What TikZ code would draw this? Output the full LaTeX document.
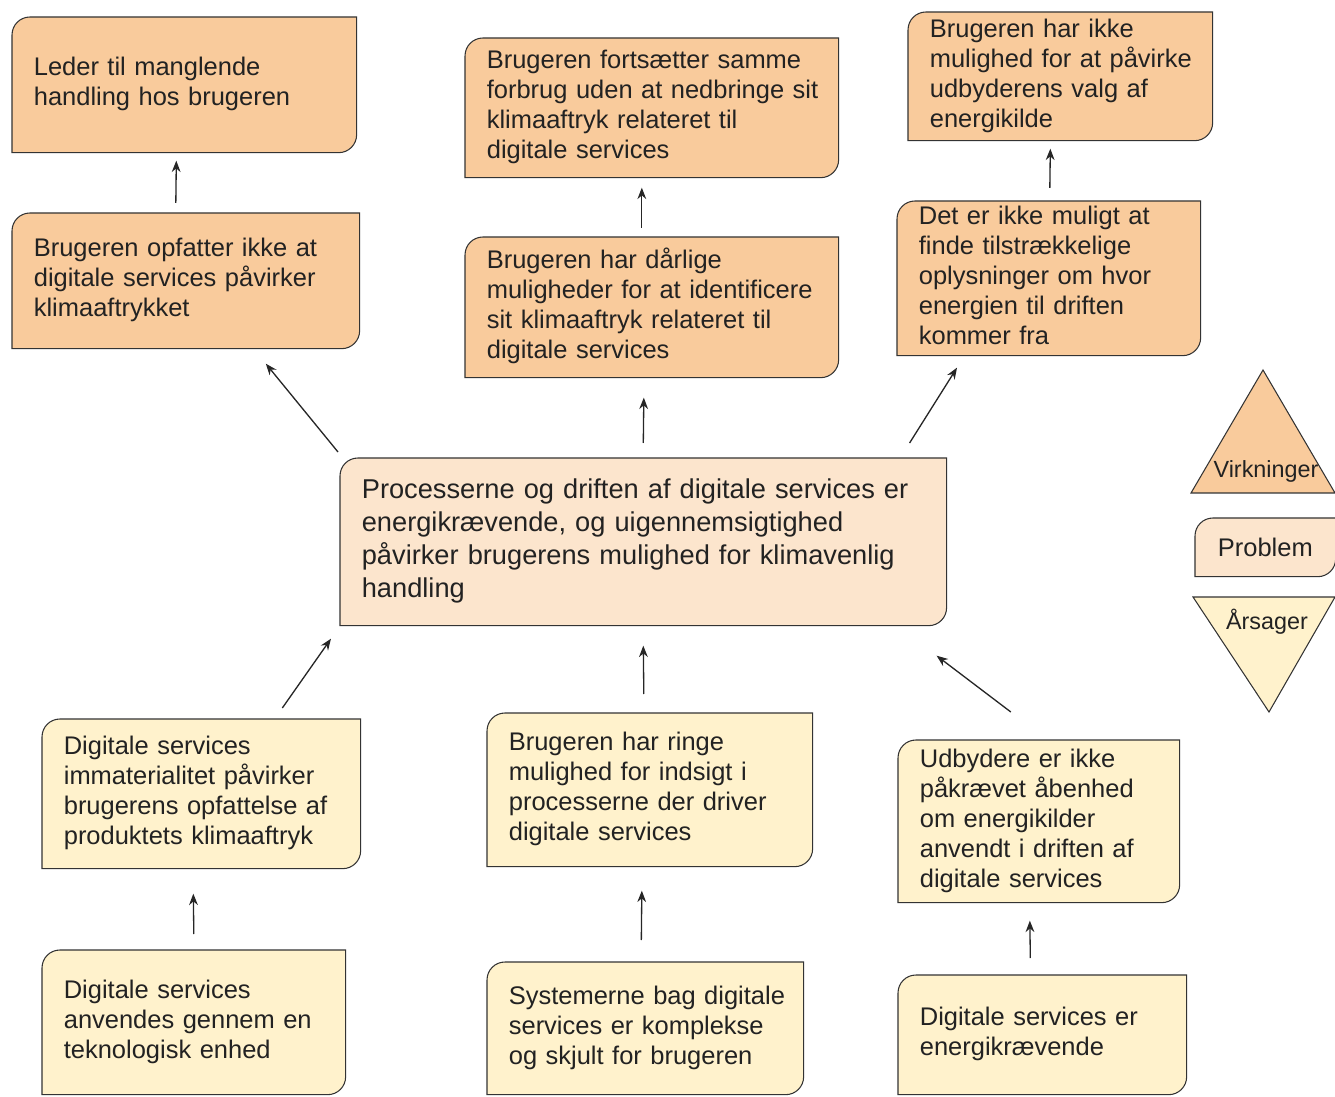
\documentclass[tikz,border=0pt]{standalone}
\usepackage{fontspec}
\setmainfont{Liberation Sans}
\usetikzlibrary{arrows.meta, backgrounds, calc}
\definecolor{kantFarve}{HTML}{333333}
\definecolor{tekstFarve}{HTML}{222222}
\definecolor{virkFarve}{HTML}{F9CB9C}
\definecolor{probFarve}{HTML}{FCE5CD}
\definecolor{aarsagFarve}{HTML}{FFF2CC}
% linjer uden ombrydning
\newcommand{\linjer}[1]{\begin{tabular}{@{}l@{}}#1\end{tabular}}
% kasse med runde hjoerner oeverst til venstre og nederst til hoejre
\newcommand{\kasse}[2]{%
  \draw[kant, fill=#2] (#1.north) -- (#1.north east)
    -- ($(#1.south east)+(0,-18)$) .. controls +(0,10) and +(10,0) .. ($(#1.south east)+(-18,0)$)
    -- (#1.south west) -- ($(#1.north west)+(0,18)$)
    .. controls +(0,-10) and +(-10,0) .. ($(#1.north west)+(18,0)$) -- cycle;}

\begin{document}
\begin{tikzpicture}[
  x=0.02cm, y=-0.02cm,
  boks/.style={anchor=north west, align=left, inner xsep=0.43cm, inner ysep=0pt,
               text=tekstFarve, font=\fontsize{14.5}{17.1}\selectfont},
  kant/.style={draw=kantFarve, line width=0.6pt},
  pil/.style={-{Stealth[length=6.5pt, width=5pt]}, draw=black!85, line width=0.75pt},
  etiket/.style={text=tekstFarve, font=\fontsize{13.3}{16}\selectfont, inner sep=0pt}
]
\useasboundingbox (0,0) rectangle (1335,1097);

% virkninger
\node[boks, text width=6.02cm, minimum height=2.70cm] (e1) at (12,17)
  {\linjer{Leder til manglende\\handling hos brugeren}};
\node[boks, text width=6.60cm, minimum height=2.78cm] (e2) at (465,38)
  {\linjer{Brugeren fortsætter samme\\forbrug uden at nedbringe sit\\klimaaftryk relateret til\\digitale services}};
\node[boks, text width=5.22cm, minimum height=2.56cm] (e3) at (908,12)
  {\linjer{Brugeren har ikke\\mulighed for at påvirke\\udbyderens valg af\\energikilde}};
\node[boks, text width=6.08cm, minimum height=2.70cm] (m1) at (12,213)
  {\linjer{Brugeren opfatter ikke at\\digitale services påvirker\\klimaaftrykket}};
\node[boks, text width=6.60cm, minimum height=2.80cm] (m2) at (465,237)
  {\linjer{Brugeren har dårlige\\muligheder for at identificere\\sit klimaaftryk relateret til\\digitale services}};
\node[boks, text width=5.20cm, minimum height=3.08cm] (m3) at (897,201)
  {\linjer{Det er ikke muligt at\\finde tilstrækkelige\\oplysninger om hvor\\energien til driften\\kommer fra}};

% problem
\node[boks, text width=11.26cm, minimum height=3.34cm,
      font=\fontsize{15.5}{18.8}\selectfont] (p) at (340,458)
  {\linjer{Processerne og driften af digitale services er\\energikrævende, og uigennemsigtighed\\påvirker brugerens mulighed for klimavenlig\\handling}};

% aarsager
\node[boks, text width=5.50cm, minimum height=2.98cm] (c1) at (42,719)
  {\linjer{Digitale services\\immaterialitet påvirker\\brugerens opfattelse af\\produktets klimaaftryk}};
\node[boks, text width=5.64cm, minimum height=3.06cm] (c2) at (487,713)
  {\linjer{Brugeren har ringe\\mulighed for indsigt i\\processerne der driver\\digitale services}};
\node[boks, text width=4.76cm, minimum height=3.24cm] (c3) at (898,740)
  {\linjer{Udbydere er ikke\\påkrævet åbenhed\\om energikilder\\anvendt i driften af\\digitale services}};
\node[boks, text width=5.20cm, minimum height=2.88cm] (r1) at (42,950)
  {\linjer{Digitale services\\anvendes gennem en\\teknologisk enhed}};
\node[boks, text width=5.46cm, minimum height=2.64cm] (r2) at (487,962)
  {\linjer{Systemerne bag digitale\\services er komplekse\\og skjult for brugeren}};
\node[boks, text width=4.90cm, minimum height=2.38cm] (r3) at (898,975)
  {\linjer{Digitale services er\\energikrævende}};

% forklaring
\node[boks, inner xsep=0pt, minimum width=2.80cm, minimum height=1.16cm,
      align=center] (lp) at (1195,518) {Problem};
\coordinate (lvTop) at (1263,370);
\coordinate (laBund) at (1269,712);
\node[etiket] (lv) at (1266,471) {Virkninger};
\node[etiket] (la) at (1267,622) {Årsager};

\begin{scope}[on background layer]
  \foreach \n/\c in {e1/virkFarve, e2/virkFarve, e3/virkFarve,
                     m1/virkFarve, m2/virkFarve, m3/virkFarve,
                     p/probFarve, lp/probFarve,
                     c1/aarsagFarve, c2/aarsagFarve, c3/aarsagFarve,
                     r1/aarsagFarve, r2/aarsagFarve, r3/aarsagFarve}
    {\kasse{\n}{\c}}
  \draw[kant, fill=virkFarve] (lvTop) -- (1335,493) -- (1191,493) -- cycle;
  \draw[kant, fill=aarsagFarve] (1193,597) -- (1335,597) -- (laBund) -- cycle;
\end{scope}

% pile
\draw[pil] ([shift={(-10,-10)}]m1.north) -- ([shift={(-8,8)}]e1.south);
\draw[pil] ([shift={(-10,-9)}]m2.north) -- ([shift={(-10,10)}]e2.south);
\draw[pil] ([shift={(1,-13)}]m3.north) -- ([shift={(-10,8)}]e3.south);
\draw[pil] ([shift={(-2,-6)}]p.north west) -- ([shift={(80,15)}]m1.south);
\draw[pil] ([shift={(0,-15)}]p.north) -- ([shift={(-8,20)}]m2.south);
\draw[pil] ([shift={(-37,-15)}]p.north east) -- ([shift={(60,12)}]m3.south west);
\draw[pil] ([shift={(81,-11)}]c1.north) -- ([shift={(-9,13)}]p.south west);
\draw[pil] ([shift={(-6,-19)}]c2.north) -- ([shift={(0,20)}]p.south);
\draw[pil] ([shift={(-28,-28)}]c3.north) -- ([shift={(-10,30)}]p.south east);
\draw[pil] ([shift={(0,-16)}]r1.north) -- ([shift={(-8,25)}]c1.south);
\draw[pil] ([shift={(-4,-22)}]r2.north) -- ([shift={(-8,24)}]c2.south);
\draw[pil] ([shift={(-12,-17)}]r3.north) -- ([shift={(-9,18)}]c3.south);

\end{tikzpicture}
\end{document}
